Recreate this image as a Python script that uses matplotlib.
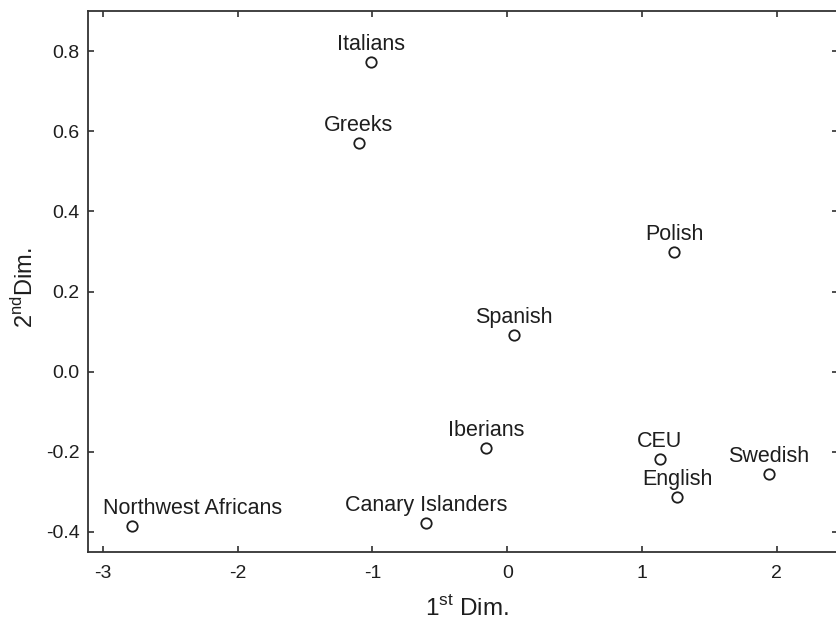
import numpy as np
import matplotlib
matplotlib.use("Agg")
from matplotlib import pyplot as plt

plt.rcParams['font.family'] = ['Liberation Sans', 'DejaVu Sans']
plt.rcParams['mathtext.fontset'] = 'custom'
plt.rcParams['mathtext.rm'] = 'Liberation Sans'

# population coordinates on the first two MDS dimensions
names = ["Italians", "Greeks", "Polish", "Spanish", "Iberians", "CEU",
         "English", "Swedish", "Northwest Africans", "Canary Islanders"]
dim1 = [-1.01, -1.10, 1.24, 0.05, -0.155, 1.13, 1.26, 1.94, -2.78, -0.60]
dim2 = [0.774, 0.570, 0.298, 0.091, -0.190, -0.218, -0.313, -0.256, -0.385, -0.378]

xticks = [-3, -2, -1, 0, 1, 2]
yticks = [-0.4, -0.2, 0.0, 0.2, 0.4, 0.6, 0.8]

ink = '#1e1e1e'

fig = plt.figure(figsize=(8.37, 6.22), dpi=100)
ax = fig.add_axes([0.1051, 0.1125, 0.8955, 0.8698])

ax.plot(dim1, dim2, linestyle='none', marker='o', markersize=7.5,
        markerfacecolor='white', markeredgecolor=ink, markeredgewidth=1.3)

# labels sit centred above their point, except the one near the left edge
for n, x, y in zip(names, dim1, dim2):
    if n == "Northwest Africans":
        ax.annotate(n, (x, y), xytext=(-21, 8.5), textcoords='offset points',
                    ha='left', va='baseline', fontsize=15.5, color=ink)
    else:
        ax.annotate(n, (x, y), xytext=(0, 8.5), textcoords='offset points',
                    ha='center', va='baseline', fontsize=15.5, color=ink)

ax.set_xlim(-3.11, 2.45)
ax.set_ylim(-0.45, 0.9)
ax.set_xticks(xticks)
ax.set_xticklabels([str(t) for t in xticks])
ax.set_yticks(yticks)
ax.set_yticklabels(["%.1f" % t for t in yticks])

ax.tick_params(direction='in', length=4, width=1.1, color=ink, labelsize=14,
               labelcolor=ink, top=True, right=True)
ax.tick_params(axis='x', pad=9)
ax.tick_params(axis='y', pad=6)
for s in ax.spines.values():
    s.set_linewidth(1.3)
    s.set_color('#333333')

ax.set_xlabel(r'1$^{\mathrm{st}}$ Dim.', fontsize=17.5, color=ink, labelpad=10)
ax.xaxis.label.set_x(0.506)
ax.set_ylabel(r'2$^{\mathrm{nd}}$Dim.', fontsize=17, color=ink, labelpad=5.5)
ax.yaxis.label.set_y(0.488)

fig.savefig('out.png', dpi=100)
